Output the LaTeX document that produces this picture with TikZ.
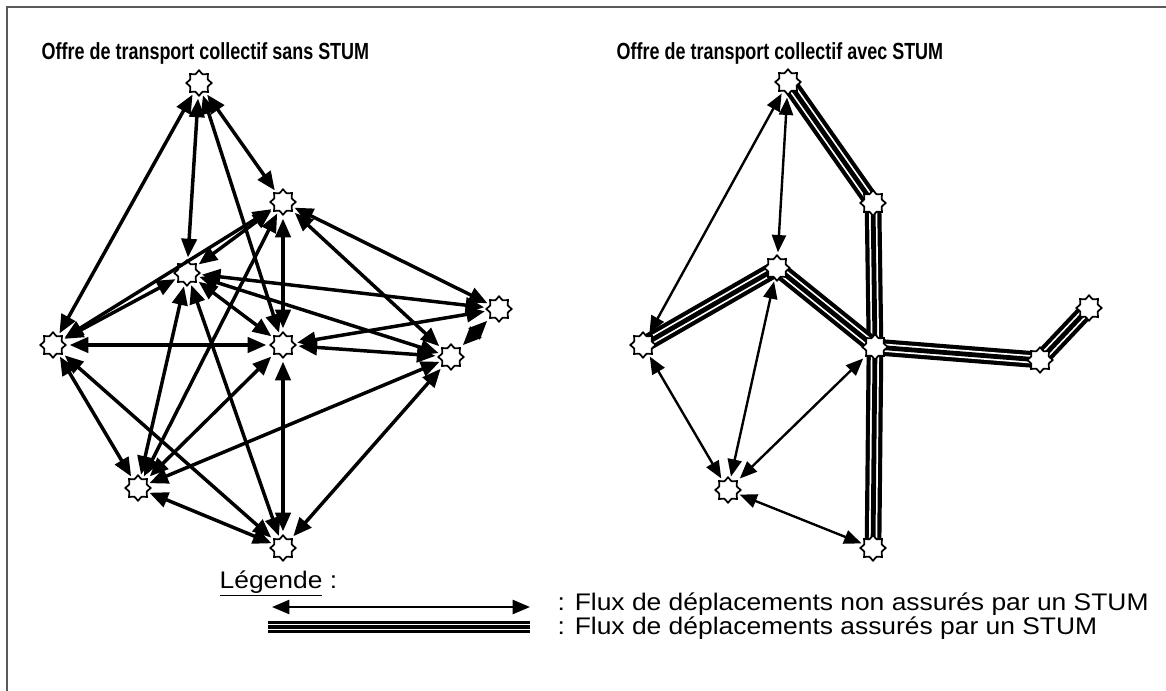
\documentclass[tikz,border=0pt]{standalone}
\usepackage{fontspec}
\usepackage{graphicx}
\setmainfont{Liberation Sans}
\usetikzlibrary{arrows.meta,shapes.geometric,backgrounds}

\tikzset{
  pole/.style={star, star points=8, star point ratio=1.35, minimum size=19pt,
    inner sep=0pt, draw, line width=1.3pt, fill=white, outer sep=2pt},
  flux/.style={{Triangle[length=14pt,width=11.5pt]}-{Triangle[length=14pt,width=11.5pt]}, line width=2.6pt},
  fluxfin/.style={{Triangle[length=13pt,width=10.5pt]}-{Triangle[length=13pt,width=10.5pt]}, line width=1.8pt},
  stum/.style={line width=3.6pt, preaction={draw, line width=12.5pt},
    preaction={draw, white, line width=6.2pt}},
  stumleg/.style={line width=2.6pt, preaction={draw, line width=8.5pt},
    preaction={draw, white, line width=4.6pt}},
  titre/.style={font=\bfseries\fontsize{17.5}{20}\selectfont, anchor=base west},
  legtxt/.style={font=\fontsize{18}{21}\selectfont, anchor=west}
}

\begin{document}
\begin{tikzpicture}[x=0.75pt,y=-0.75pt]
\useasboundingbox (0,0) rectangle (1166,691);
\draw[gray!70!black, line width=1.1pt] (7,691) -- (7,7) -- (1166,7);

% titres
\node[titre] (titre-sans) at (37,60) {\scalebox{0.77}[1]{Offre de transport collectif sans STUM}};
\node[titre] (titre-avec) at (612,60) {\scalebox{0.77}[1]{Offre de transport collectif avec STUM}};

% sans STUM
\node[pole] (s-nord) at (199,83) {};
\node[pole] (s-ne) at (283,202) {};
\node[pole] (s-mid) at (187,273) {};
\node[pole] (s-ouest) at (53,345) {};
\node[pole] (s-centre) at (283,345) {};
\node[pole] (s-est) at (499,309) {};
\node[pole] (s-se) at (451,357) {};
\node[pole] (s-so) at (138,488) {};
\node[pole] (s-sud) at (283,548) {};

\foreach \a/\b in {nord/ouest, nord/mid, nord/ne, nord/centre, ne/ouest, ne/mid,
  ne/so, ne/centre, ne/est, ne/se, mid/ouest, mid/est, mid/se, mid/centre,
  mid/so, mid/sud, ouest/centre, ouest/so, ouest/sud, centre/est, centre/se,
  centre/so, centre/sud, se/so, se/sud, so/sud, est/se}
  \draw[flux] (s-\a) -- (s-\b);

% avec STUM
\node[pole] (a-nord) at (788,82) {};
\node[pole] (a-ne) at (873,203) {};
\node[pole] (a-mid) at (777,268) {};
\node[pole] (a-ouest) at (643,345) {};
\node[pole] (a-hub) at (875,347) {};
\node[pole] (a-est) at (1040,360) {};
\node[pole] (a-ext) at (1089,308) {};
\node[pole] (a-so) at (728,490) {};
\node[pole] (a-sud) at (873,548) {};

\foreach \a/\b in {nord/ouest, nord/mid, ouest/so, mid/so, hub/so, so/sud}
  \draw[fluxfin] (a-\a) -- (a-\b);

\begin{pgfonlayer}{background}
\foreach \a/\b in {nord/ne, ne/hub, hub/sud, ouest/mid, mid/hub, hub/est, est/ext}
  \draw[stum] (a-\a.center) -- (a-\b.center);
\end{pgfonlayer}

% legende
\node[legtxt, anchor=base west] (legende) at (215,588) {\scalebox{1.1}[1]{\underline{Légende} :}};
\coordinate (leg1a) at (272,607);
\coordinate (leg1b) at (530,607);
\coordinate (leg2a) at (268,627);
\coordinate (leg2b) at (530,627);
\draw[fluxfin] (leg1a) -- (leg1b);
\draw[stumleg] (leg2a) -- (leg2b);
\node[legtxt] (leg-non) at (553,604) {\scalebox{1.1}[1]{: Flux de déplacements non assurés par un STUM}};
\node[legtxt] (leg-oui) at (553,628) {\scalebox{1.1}[1]{: Flux de déplacements assurés par un STUM}};
\end{tikzpicture}
\end{document}
